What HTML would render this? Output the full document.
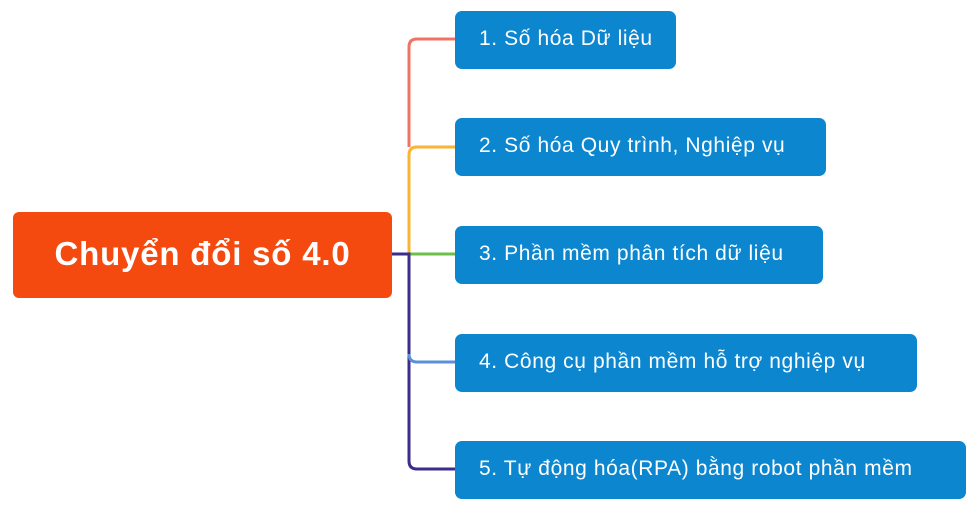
<!DOCTYPE html>
<html><head><meta charset="utf-8"><style>
body{margin:0;width:970px;height:507px;background:#fff;position:relative;overflow:hidden;font-family:"Liberation Sans","DejaVu Sans",sans-serif}
.b{position:absolute;left:455px;height:58px;background:#0b86cf;border-radius:7px;color:#fff;font-size:21px;letter-spacing:0.6px;line-height:56px;padding-left:24px;box-sizing:border-box;white-space:nowrap}
.c{position:absolute;left:13px;top:212px;width:379px;height:86px;background:#f54a0f;border-radius:6px;color:#fff;font-weight:bold;font-size:33px;letter-spacing:0.8px;line-height:84px;text-align:center}
</style></head><body>
<svg width="970" height="507" style="position:absolute;left:0;top:0" fill="none" stroke-width="3">
<path d="M455 39 H417 Q409 39 409 47 V147" stroke="#f07465"/>
<path d="M455 147 H417 Q409 147 409 155 V254" stroke="#f7b531"/>
<path d="M409 254 H455" stroke="#6cc04a"/>
<path d="M392 254 H409 V461 Q409 469 417 469 H455" stroke="#3a2d8c"/>
<path d="M409 354 Q409 362 417 362 H455" stroke="#5b8fd6"/>
</svg>
<div class="c">Chuyển đổi số 4.0</div>
<div class="b" style="top:11px;width:221px">1. Số hóa Dữ liệu</div>
<div class="b" style="top:118px;width:371px">2. Số hóa Quy trình, Nghiệp vụ</div>
<div class="b" style="top:226px;width:368px">3. Phần mềm phân tích dữ liệu</div>
<div class="b" style="top:334px;width:462px">4. Công cụ phần mềm hỗ trợ nghiệp vụ</div>
<div class="b" style="top:441px;width:511px">5. Tự động hóa(RPA) bằng robot phần mềm</div>
</body></html>
